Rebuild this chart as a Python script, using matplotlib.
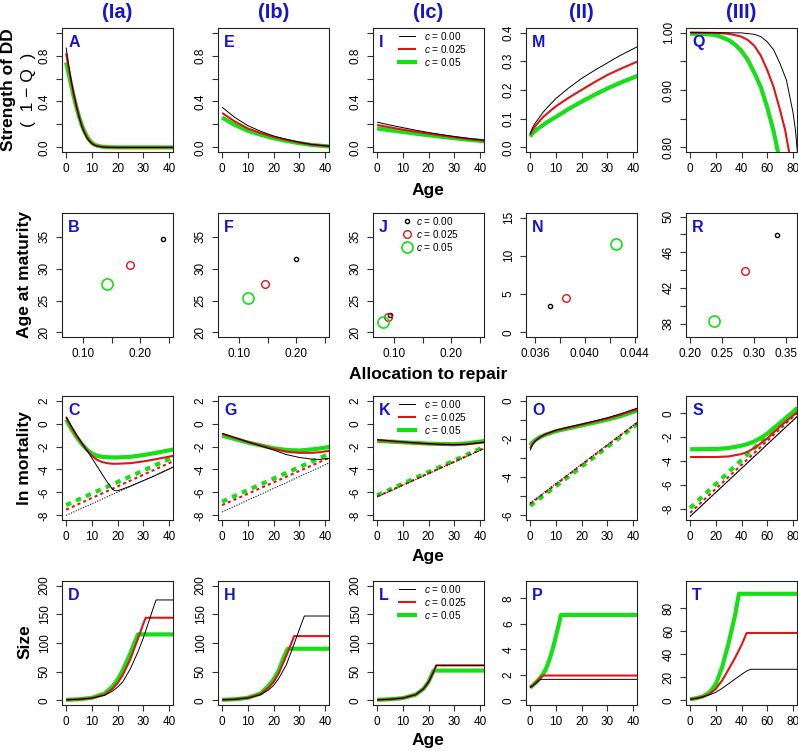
import matplotlib
matplotlib.use('Agg')
import matplotlib.pyplot as plt
from matplotlib.lines import Line2D

plt.rcParams['font.family'] = ['Liberation Sans', 'DejaVu Sans']
plt.rcParams['mathtext.fontset'] = 'custom'
plt.rcParams['mathtext.it'] = 'Liberation Sans:italic'
plt.rcParams['mathtext.rm'] = 'Liberation Sans'

# ---------------- data ----------------
c_labels = ['$c$ = 0.00', '$c$ = 0.025', '$c$ = 0.05']
col_titles = ['(Ia)', '(Ib)', '(Ic)', '(II)', '(III)']

# Row 1: strength of DD (1 - Q)
A_age = [0, 1, 2, 3, 4, 5, 6, 7, 8, 9, 10, 11, 12, 14, 16, 20, 30, 42]
A_black = [0.87, 0.72, 0.58, 0.46, 0.36, 0.27, 0.19, 0.13, 0.085, 0.055, 0.033, 0.02, 0.012, 0.004, 0.001, 0, 0, 0]
A_red = [0.82, 0.69, 0.57, 0.46, 0.36, 0.275, 0.2, 0.14, 0.095, 0.06, 0.037, 0.022, 0.013, 0.005, 0.002, 0, 0, 0]
A_green = [0.74, 0.64, 0.54, 0.44, 0.35, 0.27, 0.2, 0.145, 0.1, 0.065, 0.04, 0.025, 0.015, 0.006, 0.002, 0, 0, 0]

E_age = [0, 5, 10, 15, 20, 25, 30, 35, 42]
E_black = [0.35, 0.26, 0.19, 0.14, 0.10, 0.07, 0.045, 0.025, 0.01]
E_red = [0.30, 0.225, 0.165, 0.125, 0.092, 0.065, 0.042, 0.024, 0.01]
E_green = [0.26, 0.195, 0.145, 0.11, 0.08, 0.057, 0.037, 0.021, 0.008]

I_age = [0, 5, 10, 15, 20, 25, 30, 35, 42]
I_black = [0.22, 0.195, 0.172, 0.15, 0.13, 0.112, 0.095, 0.08, 0.062]
I_red = [0.195, 0.175, 0.155, 0.137, 0.12, 0.104, 0.089, 0.075, 0.058]
I_green = [0.165, 0.15, 0.135, 0.12, 0.106, 0.093, 0.08, 0.068, 0.053]

M_age = [0, 1, 2, 3, 5, 7, 10, 15, 20, 25, 30, 35, 42]
M_black = [0.048, 0.07, 0.085, 0.097, 0.122, 0.142, 0.17, 0.207, 0.24, 0.268, 0.294, 0.32, 0.352]
M_red = [0.045, 0.062, 0.074, 0.085, 0.105, 0.121, 0.143, 0.173, 0.2, 0.227, 0.252, 0.273, 0.3]
M_green = [0.038, 0.05, 0.058, 0.065, 0.078, 0.09, 0.106, 0.134, 0.159, 0.183, 0.205, 0.225, 0.25]

Q_black_age = [0, 40, 50, 55, 60, 65, 70, 75, 80, 82, 84]
Q_black = [1.0, 0.9995, 0.997, 0.993, 0.984, 0.97, 0.946, 0.917, 0.862, 0.83, 0.78]
Q_red_age = [0, 20, 30, 40, 45, 50, 55, 60, 65, 70, 74, 78]
Q_red = [1.0, 0.9995, 0.998, 0.993, 0.987, 0.977, 0.96, 0.935, 0.905, 0.865, 0.83, 0.78]
Q_green_age = [0, 10, 20, 30, 35, 40, 45, 50, 55, 60, 65, 70]
Q_green = [0.998, 0.9975, 0.996, 0.987, 0.979, 0.968, 0.952, 0.93, 0.905, 0.87, 0.828, 0.775]

# Row 2: age at maturity vs allocation to repair (black, red, green)
B_x = [0.240, 0.182, 0.141]
B_y = [34.7, 30.6, 27.6]
F_x = [0.199, 0.145, 0.116]
F_y = [31.5, 27.6, 25.4]
J_x = [0.093, 0.089, 0.081]
J_y = [22.7, 22.4, 21.6]
N_x = [0.03718, 0.03846, 0.04254]
N_y = [3.4, 4.5, 11.5]
R_x = [0.336, 0.285, 0.237]
R_y = [47.9, 43.9, 38.3]

# Row 3: ln mortality (solid = realised, dotted = intrinsic)
C_black_age = [0, 2, 4, 6, 8, 10, 12, 14, 16, 18, 19, 20, 22, 25, 30, 35, 42]
C_black = [0.6, -0.2, -0.95, -1.65, -2.3, -3.0, -3.7, -4.4, -5.1, -5.7, -5.85, -5.85, -5.7, -5.45, -4.98, -4.5, -3.75]
C_red_age = [0, 2, 4, 6, 8, 10, 12, 14, 16, 18, 20, 25, 30, 35, 42]
C_red = [0.55, -0.3, -1.05, -1.7, -2.3, -2.8, -3.15, -3.35, -3.45, -3.5, -3.5, -3.45, -3.3, -3.1, -2.8]
C_green = [0.35, -0.45, -1.15, -1.75, -2.25, -2.6, -2.8, -2.9, -2.93, -2.95, -2.95, -2.9, -2.75, -2.55, -2.25]
C_int_age = [0, 42]
C_int_black = [-8.0, -3.75]
C_int_red = [-7.5, -3.25]
C_int_green = [-7.1, -2.9]

G_age = [0, 5, 10, 15, 20, 25, 30, 35, 38, 42]
G_black = [-0.85, -1.22, -1.6, -1.95, -2.3, -2.7, -2.95, -3.1, -3.12, -3.03]
G_red = [-0.9, -1.25, -1.6, -1.9, -2.2, -2.45, -2.55, -2.55, -2.5, -2.36]
G_green = [-1.05, -1.35, -1.65, -1.9, -2.15, -2.3, -2.35, -2.25, -2.17, -2.02]
G_int_age = [0, 42]
G_int_black = [-7.7, -3.4]
G_int_red = [-7.1, -2.95]
G_int_green = [-6.8, -2.6]

K_age = [0, 5, 10, 15, 20, 25, 30, 35, 42]
K_black = [-1.4, -1.5, -1.6, -1.68, -1.75, -1.81, -1.85, -1.8, -1.62]
K_red = [-1.45, -1.54, -1.62, -1.7, -1.77, -1.82, -1.85, -1.8, -1.62]
K_green = [-1.5, -1.57, -1.63, -1.69, -1.75, -1.78, -1.8, -1.72, -1.52]
K_int_age = [0, 42]
K_int_black = [-6.4, -2.15]
K_int_red = [-6.35, -2.1]
K_int_green = [-6.25, -2.0]

O_age = [0, 1, 2, 4, 6, 10, 15, 20, 25, 30, 35, 42]
O_black = [-2.6, -2.3, -2.12, -1.9, -1.75, -1.55, -1.38, -1.23, -1.07, -0.9, -0.7, -0.38]
O_red = [-2.5, -2.25, -2.1, -1.9, -1.76, -1.57, -1.41, -1.26, -1.1, -0.94, -0.75, -0.44]
O_green = [-2.35, -2.18, -2.06, -1.9, -1.78, -1.6, -1.45, -1.3, -1.15, -1.0, -0.82, -0.51]
O_int_age = [0, 42]
O_int_black = [-5.35, -1.1]
O_int_red = [-5.4, -1.13]
O_int_green = [-5.5, -1.2]

S_age = [0, 20, 30, 40, 45, 50, 55, 60, 65, 70, 75, 80, 84]
S_black = [-8.6, -6.6, -5.6, -4.6, -4.1, -3.6, -3.1, -2.6, -2.1, -1.6, -1.1, -0.6, -0.2]
S_red = [-3.65, -3.65, -3.6, -3.4, -3.2, -2.9, -2.5, -2.1, -1.6, -1.1, -0.65, -0.2, 0.15]
S_green = [-3.0, -2.98, -2.9, -2.7, -2.55, -2.35, -2.05, -1.7, -1.25, -0.8, -0.35, 0.1, 0.45]
S_int_age = [0, 84]
S_int_black = [-8.6, -0.2]
S_int_red = [-8.3, 0.1]
S_int_green = [-7.9, 0.5]

# Row 4: size
D_black_age = [0, 5, 10, 15, 18, 20, 22, 25, 28, 30, 32, 34, 35, 42]
D_black = [1, 2, 4, 9, 16, 23, 32, 55, 85, 108, 135, 162, 175, 175]
D_red_age = [0, 5, 10, 15, 18, 20, 22, 25, 28, 30, 31, 42]
D_red = [1, 2, 4, 10, 20, 30, 44, 72, 108, 133, 144, 144]
D_green_age = [0, 5, 10, 15, 18, 20, 22, 25, 27, 28, 42]
D_green = [1, 2, 4.5, 12, 24, 36, 52, 82, 105, 115, 115]

H_black_age = [0, 5, 10, 15, 18, 20, 22, 25, 28, 30, 32, 42]
H_black = [1, 2, 4, 10, 18, 26, 38, 62, 98, 123, 147, 147]
H_red_age = [0, 5, 10, 15, 18, 20, 22, 25, 27, 28, 42]
H_red = [1, 2, 4.5, 11, 22, 32, 47, 78, 100, 112, 112]
H_green_age = [0, 5, 10, 15, 18, 20, 22, 24, 25.5, 42]
H_green = [1, 2, 4.5, 12, 25, 36, 52, 75, 90, 90]

L_black_age = [0, 5, 10, 15, 18, 20, 22, 23, 42]
L_black = [1, 2, 4, 10, 20, 32, 50, 61, 61]
L_red_age = [0, 5, 10, 15, 18, 20, 22, 23, 42]
L_red = [1, 2, 4, 10, 20, 32, 50, 61, 61]
L_green_age = [0, 5, 10, 15, 18, 20, 22, 42]
L_green = [1, 2, 4, 10, 20, 32, 52, 52]

P_black_age = [0, 1, 2, 3, 4, 42]
P_black = [1.0, 1.15, 1.3, 1.47, 1.65, 1.65]
P_red_age = [0, 1, 2, 3, 4, 5, 42]
P_red = [1.0, 1.17, 1.36, 1.56, 1.78, 1.95, 1.95]
P_green_age = [0, 1, 2, 3, 4, 5, 6, 7, 8, 9, 10, 11, 12, 42]
P_green = [1.0, 1.17, 1.36, 1.57, 1.8, 2.05, 2.4, 2.9, 3.5, 4.2, 5.0, 5.8, 6.7, 6.7]

T_black_age = [0, 5, 10, 15, 20, 25, 30, 35, 40, 44, 47, 84]
T_black = [1, 1.8, 3, 4.8, 7, 10.5, 14.5, 18.5, 22.5, 25.5, 27, 27]
T_red_age = [0, 5, 10, 15, 20, 25, 30, 35, 40, 44, 84]
T_red = [1, 1.8, 3.2, 5.5, 10, 17.5, 27, 37, 48, 58.5, 58.5]
T_green_age = [0, 5, 10, 15, 20, 25, 30, 35, 38, 84]
T_green = [1, 1.9, 3.5, 6.8, 14, 29, 50, 74, 92.5, 92.5]

# ---------------- layout ----------------
W, H = 798, 751
fig = plt.figure(figsize=(W / 100, H / 100), dpi=100)

BLUE = '#1515cc'
RED = '#e01515'
GREEN = '#15e015'
COLS = ['black', RED, GREEN]
LWS = [0.7, 1.5, 3.0]

col_left = [62, 218, 373, 526, 686]
col_w = 111
row_top = [28, 213, 396, 581]
row_h = 124
TICK_FS = 8.5
LEG_FS = 7.2


def make_ax(ci, ri):
    l = col_left[ci]
    t = row_top[ri]
    ax = fig.add_axes([l / W, 1 - (t + row_h) / H, col_w / W, row_h / H])
    for s in ax.spines.values():
        s.set_linewidth(0.8)
        s.set_color('#222222')
    ax.tick_params(direction='out', length=4, width=0.8, color='#333333',
                   labelsize=TICK_FS, pad=4)
    return ax


def set_ticks(ax, xt, xl, yt, yl):
    ax.set_xticks(xt)
    ax.set_xticklabels(xl)
    ax.set_yticks(yt)
    ax.set_yticklabels(yl, rotation=90, va='center')


def letter(ax, s):
    ax.text(0.055, 0.88, s, transform=ax.transAxes, color=BLUE, fontsize=11.5,
            fontweight='bold', va='center', ha='left')


def lines3(ax, ages, vals):
    for k in [2, 1, 0]:
        ax.plot(ages[k], vals[k], color=COLS[k], lw=LWS[k], solid_capstyle='butt')


def line_legend(ax):
    h = [Line2D([], [], color=COLS[k], lw=LWS[k]) for k in range(3)]
    ax.legend(h, c_labels, loc='upper left', bbox_to_anchor=(0.23, 0.985),
              frameon=False, fontsize=LEG_FS, handlelength=1.6, handletextpad=0.9,
              labelspacing=0.1, borderaxespad=0, borderpad=0)


x40 = [0, 10, 20, 30, 40]
x40l = ['0', '10', '20', '30', '40']
x80 = [0, 20, 40, 60, 80]
x80l = ['0', '20', '40', '60', '80']
xlim40 = (-1.6, 41.6)
xlim80 = (-3.2, 83.2)

# ----- Row 1 -----
yt_dd = [0, 0.2, 0.4, 0.6, 0.8, 1.0]
yl_dd = ['0.0', '', '0.4', '', '0.8', '']
for ci, (lab, ag, bl, rd, gr) in enumerate([
        ('A', A_age, A_black, A_red, A_green),
        ('E', E_age, E_black, E_red, E_green),
        ('I', I_age, I_black, I_red, I_green)]):
    ax = make_ax(ci, 0)
    lines3(ax, [ag, ag, ag], [bl, rd, gr])
    ax.set_xlim(*xlim40)
    ax.set_ylim(-0.04, 1.04)
    set_ticks(ax, x40, x40l, yt_dd, yl_dd)
    letter(ax, lab)
    if lab == 'I':
        line_legend(ax)

ax = make_ax(3, 0)
lines3(ax, [M_age] * 3, [M_black, M_red, M_green])
ax.set_xlim(*xlim40)
ax.set_ylim(-0.016, 0.416)
set_ticks(ax, x40, x40l, [0, 0.1, 0.2, 0.3, 0.4], ['0.0', '0.1', '0.2', '0.3', '0.4'])
letter(ax, 'M')

ax = make_ax(4, 0)
lines3(ax, [Q_black_age, Q_red_age, Q_green_age], [Q_black, Q_red, Q_green])
ax.set_xlim(*xlim80)
ax.set_ylim(0.792, 1.008)
set_ticks(ax, x80, x80l, [0.80, 0.85, 0.90, 0.95, 1.00], ['0.80', '', '0.90', '', '1.00'])
letter(ax, 'Q')

# ----- Row 2 -----
MS = [3.0, 5.5, 8.0]
MEW = [1.0, 1.0, 1.2]


def points3(ax, xs, ys):
    for k in range(3):
        ax.plot([xs[k]], [ys[k]], 'o', mfc='none', mec=COLS[k], ms=MS[k], mew=MEW[k])


for ci, (lab, xs, ys) in enumerate([('B', B_x, B_y), ('F', F_x, F_y), ('J', J_x, J_y)]):
    ax = make_ax(ci, 1)
    points3(ax, xs, ys)
    ax.set_xlim(0.0628, 0.2572)
    ax.set_ylim(19.28, 38.72)
    set_ticks(ax, [0.10, 0.15, 0.20, 0.25], ['0.10', '', '0.20', ''],
              [20, 25, 30, 35], ['20', '25', '30', '35'])
    letter(ax, lab)
    if lab == 'J':
        h = [Line2D([], [], ls='none', marker='o', mfc='none', mec=COLS[k], ms=MS[k], mew=MEW[k])
             for k in range(3)]
        ax.legend(h, c_labels, loc='upper left', bbox_to_anchor=(0.27, 0.985),
                  frameon=False, fontsize=LEG_FS, handlelength=0.9, handletextpad=0.4,
                  labelspacing=0.1, borderaxespad=0, borderpad=0)

ax = make_ax(3, 1)
points3(ax, N_x, N_y)
ax.set_xlim(0.03528, 0.04420)
ax.set_ylim(-0.6, 15.6)
set_ticks(ax, [0.036, 0.038, 0.040, 0.042, 0.044], ['0.036', '', '0.040', '', '0.044'],
          [0, 5, 10, 15], ['0', '5', '10', '15'])
letter(ax, 'N')

ax = make_ax(4, 1)
points3(ax, R_x, R_y)
ax.set_xlim(0.1936, 0.3664)
ax.set_ylim(36.5, 50.4)
set_ticks(ax, [0.20, 0.25, 0.30, 0.35], ['0.20', '0.25', '0.30', '0.35'],
          [38, 40, 42, 44, 46, 48, 50], ['38', '', '42', '', '46', '', '50'])
letter(ax, 'R')

# ----- Row 3 -----
INT_STY = [dict(ls=(0, (1.2, 1.5)), lw=0.7), dict(ls=(0, (1.5, 1.5)), lw=1.5),
           dict(ls=(0, (1.3, 1.3)), lw=3.0)]


def intr3(ax, age, vals):
    for k in [2, 1, 0]:
        ax.plot(age, vals[k], color=COLS[k], **INT_STY[k])


yt_m = [-8, -6, -4, -2, 0, 2]
yl_m = ['-8', '-6', '-4', '-2', '0', '2']

ax = make_ax(0, 2)
intr3(ax, C_int_age, [C_int_black, C_int_red, C_int_green])
lines3(ax, [C_black_age, C_red_age, C_red_age], [C_black, C_red, C_green])
ax.set_xlim(*xlim40)
ax.set_ylim(-8.4, 2.4)
set_ticks(ax, x40, x40l, yt_m, yl_m)
letter(ax, 'C')

ax = make_ax(1, 2)
intr3(ax, G_int_age, [G_int_black, G_int_red, G_int_green])
lines3(ax, [G_age] * 3, [G_black, G_red, G_green])
ax.set_xlim(*xlim40)
ax.set_ylim(-8.4, 2.4)
set_ticks(ax, x40, x40l, yt_m, yl_m)
letter(ax, 'G')

ax = make_ax(2, 2)
intr3(ax, K_int_age, [K_int_black, K_int_red, K_int_green])
lines3(ax, [K_age] * 3, [K_black, K_red, K_green])
ax.set_xlim(*xlim40)
ax.set_ylim(-8.4, 2.4)
set_ticks(ax, x40, x40l, yt_m, yl_m)
letter(ax, 'K')
line_legend(ax)

ax = make_ax(3, 2)
intr3(ax, O_int_age, [O_int_black, O_int_red, O_int_green])
lines3(ax, [O_age] * 3, [O_black, O_red, O_green])
ax.set_xlim(*xlim40)
ax.set_ylim(-6.24, 0.24)
set_ticks(ax, x40, x40l, [-6, -5, -4, -3, -2, -1, 0], ['-6', '', '-4', '', '-2', '', '0'])
letter(ax, 'O')

ax = make_ax(4, 2)
intr3(ax, S_int_age, [S_int_black, S_int_red, S_int_green])
lines3(ax, [S_age] * 3, [S_black, S_red, S_green])
ax.set_xlim(*xlim80)
ax.set_ylim(-8.9, 1.44)
set_ticks(ax, x80, x80l, [-8, -6, -4, -2, 0], ['-8', '-6', '-4', '-2', '0'])
letter(ax, 'S')

# ----- Row 4 -----
yt_s = [0, 50, 100, 150, 200]
yl_s = ['0', '50', '100', '150', '200']
for ci, (lab, ags, vals) in enumerate([
        ('D', [D_black_age, D_red_age, D_green_age], [D_black, D_red, D_green]),
        ('H', [H_black_age, H_red_age, H_green_age], [H_black, H_red, H_green]),
        ('L', [L_black_age, L_red_age, L_green_age], [L_black, L_red, L_green])]):
    ax = make_ax(ci, 3)
    lines3(ax, ags, vals)
    ax.set_xlim(*xlim40)
    ax.set_ylim(-8, 208)
    set_ticks(ax, x40, x40l, yt_s, yl_s)
    letter(ax, lab)
    if lab == 'L':
        line_legend(ax)

ax = make_ax(3, 3)
lines3(ax, [P_black_age, P_red_age, P_green_age], [P_black, P_red, P_green])
ax.set_xlim(*xlim40)
ax.set_ylim(-0.36, 9.36)
set_ticks(ax, x40, x40l, [0, 2, 4, 6, 8], ['0', '2', '4', '6', '8'])
letter(ax, 'P')

ax = make_ax(4, 3)
lines3(ax, [T_black_age, T_red_age, T_green_age], [T_black, T_red, T_green])
ax.set_xlim(*xlim80)
ax.set_ylim(-4, 103.6)
set_ticks(ax, x80, x80l, [0, 20, 40, 60, 80], ['0', '20', '40', '60', '80'])
letter(ax, 'T')

# ----- figure texts -----
for ci, t in enumerate(col_titles):
    fig.text((col_left[ci] + col_w / 2) / W, 1 - 12 / H, t, color=BLUE, fontsize=14.5,
             fontweight='bold', ha='center', va='center')

LAB_FS = 12.5
fig.text(9 / W, 1 - 90 / H, 'Strength of DD', rotation=90, fontsize=LAB_FS,
         fontweight='bold', ha='center', va='center')
fig.text(28 / W, 1 - 90 / H, '(  1 \u2212 Q  )', rotation=90, fontsize=12.5,
         ha='center', va='center')
fig.text(25 / W, 1 - 274 / H, 'Age at maturity', rotation=90, fontsize=LAB_FS,
         fontweight='bold', ha='center', va='center')
fig.text(25 / W, 1 - 458 / H, 'ln mortality', rotation=90, fontsize=LAB_FS,
         fontweight='bold', ha='center', va='center')
fig.text(25 / W, 1 - 642 / H, 'Size', rotation=90, fontsize=LAB_FS,
         fontweight='bold', ha='center', va='center')

xc = (col_left[2] + col_w / 2) / W
fig.text(xc, 1 - 190 / H, 'Age', fontsize=LAB_FS, fontweight='bold', ha='center', va='center')
fig.text(xc, 1 - 374 / H, 'Allocation to repair', fontsize=LAB_FS, fontweight='bold',
         ha='center', va='center')
fig.text(xc, 1 - 557 / H, 'Age', fontsize=LAB_FS, fontweight='bold', ha='center', va='center')
fig.text(xc, 1 - 741 / H, 'Age', fontsize=LAB_FS, fontweight='bold', ha='center', va='center')

fig.savefig('out.png', dpi=100)
